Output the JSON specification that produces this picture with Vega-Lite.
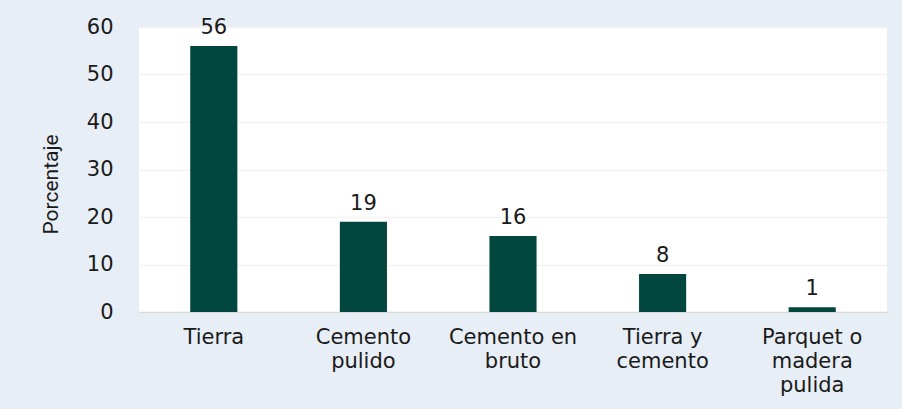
{
  "$schema": "https://vega.github.io/schema/vega-lite/v6.json",
  "autosize": {"type": "none"},
  "width": 748,
  "height": 285,
  "padding": {"left": 139, "top": 27, "right": 15, "bottom": 97},
  "background": "#E8EEF5",
  "config": {
    "view": {"stroke": null, "fill": "#FFFFFF"},
    "font": "DejaVu Sans"
  },
  "data": {
    "values": [
      {"material": "Tierra", "porcentaje": 56},
      {"material": "Cemento pulido", "porcentaje": 19},
      {"material": "Cemento en bruto", "porcentaje": 16},
      {"material": "Tierra y cemento", "porcentaje": 8},
      {"material": "Parquet o madera pulida", "porcentaje": 1}
    ]
  },
  "encoding": {
    "x": {
      "field": "material",
      "type": "nominal",
      "sort": null,
      "scale": {"paddingInner": 0.685, "paddingOuter": 0.3425},
      "axis": {
        "title": null,
        "labelAngle": 0,
        "labelFont": "DejaVu Sans",
        "labelFontSize": 21,
        "labelColor": "#1a1a1a",
        "labelPadding": 14,
        "labelLineHeight": 24,
        "labelBaseline": "top",
        "ticks": false,
        "domainColor": "#D9D9D9",
        "domainWidth": 1.5,
        "grid": false,
        "labelExpr": "datum.label == 'Cemento pulido' ? ['Cemento', 'pulido'] : datum.label == 'Cemento en bruto' ? ['Cemento en', 'bruto'] : datum.label == 'Tierra y cemento' ? ['Tierra y', 'cemento'] : datum.label == 'Parquet o madera pulida' ? ['Parquet o', 'madera', 'pulida'] : datum.label"
      }
    },
    "y": {
      "field": "porcentaje",
      "type": "quantitative",
      "scale": {"domain": [0, 60], "nice": false},
      "axis": {
        "title": "Porcentaje",
        "titleFont": "Liberation Sans Narrow, Roboto",
        "titleFontWeight": "normal",
        "titleFontSize": 21,
        "titleColor": "#1a1a1a",
        "titleX": -88,
        "titleY": 157,
        "titleAngle": -90,
        "titleAlign": "center",
        "titleBaseline": "middle",
        "values": [0, 10, 20, 30, 40, 50, 60],
        "labelFont": "DejaVu Sans",
        "labelFontSize": 21,
        "labelColor": "#1a1a1a",
        "labelPadding": 26,
        "ticks": false,
        "domain": false,
        "gridColor": "#F2F2F2",
        "gridWidth": 1.5
      }
    }
  },
  "layer": [
    {"mark": {"type": "bar", "color": "#01473F"}},
    {
      "mark": {"type": "text", "baseline": "alphabetic", "dy": -12, "fontSize": 21, "font": "DejaVu Sans", "color": "#1a1a1a"},
      "encoding": {"text": {"field": "porcentaje", "type": "quantitative"}}
    }
  ]
}
